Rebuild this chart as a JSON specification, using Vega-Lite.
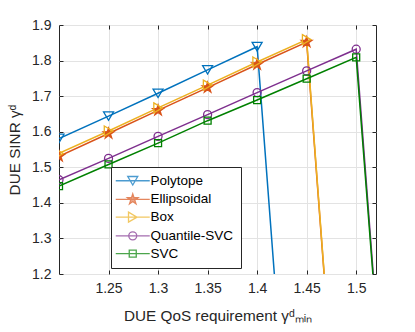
{
  "$schema": "https://vega.github.io/schema/vega-lite/v6.json",
  "width": 317,
  "height": 249,
  "autosize": {"type": "none"},
  "padding": {"left": 59, "top": 25, "right": 39, "bottom": 58},
  "config": {
    "font": "Liberation Sans",
    "view": {"stroke": "#262626", "strokeWidth": 1},
    "axis": {
      "domain": false,
      "gridColor": "#e3e3e3",
      "gridWidth": 1,
      "tickColor": "#262626",
      "tickSize": -4,
      "labelColor": "#262626",
      "labelFont": "Liberation Sans",
      "labelFontSize": 14,
      "titleFont": "Liberation Sans",
      "titleFontSize": 15.3,
      "titleFontWeight": "normal",
      "titleColor": "#262626"
    }
  },
  "data": {
    "values": [
      {"s": "Polytope", "x": 1.2, "y": 1.581},
      {"s": "Polytope", "x": 1.25, "y": 1.644},
      {"s": "Polytope", "x": 1.3, "y": 1.708},
      {"s": "Polytope", "x": 1.35, "y": 1.774},
      {"s": "Polytope", "x": 1.4, "y": 1.839},
      {"s": "Polytope", "x": 1.45, "y": 0},
      {"s": "Ellipsoidal", "x": 1.2, "y": 1.531},
      {"s": "Ellipsoidal", "x": 1.25, "y": 1.595},
      {"s": "Ellipsoidal", "x": 1.3, "y": 1.66},
      {"s": "Ellipsoidal", "x": 1.35, "y": 1.724},
      {"s": "Ellipsoidal", "x": 1.4, "y": 1.789},
      {"s": "Ellipsoidal", "x": 1.45, "y": 1.852},
      {"s": "Ellipsoidal", "x": 1.5, "y": 0},
      {"s": "Box", "x": 1.2, "y": 1.539},
      {"s": "Box", "x": 1.25, "y": 1.602},
      {"s": "Box", "x": 1.3, "y": 1.667},
      {"s": "Box", "x": 1.35, "y": 1.731},
      {"s": "Box", "x": 1.4, "y": 1.796},
      {"s": "Box", "x": 1.45, "y": 1.859},
      {"s": "Box", "x": 1.5, "y": 0},
      {"s": "Quantile-SVC", "x": 1.2, "y": 1.465},
      {"s": "Quantile-SVC", "x": 1.25, "y": 1.525},
      {"s": "Quantile-SVC", "x": 1.3, "y": 1.587},
      {"s": "Quantile-SVC", "x": 1.35, "y": 1.648},
      {"s": "Quantile-SVC", "x": 1.4, "y": 1.71},
      {"s": "Quantile-SVC", "x": 1.45, "y": 1.771},
      {"s": "Quantile-SVC", "x": 1.5, "y": 1.832},
      {"s": "Quantile-SVC", "x": 1.55, "y": 0},
      {"s": "SVC", "x": 1.2, "y": 1.447},
      {"s": "SVC", "x": 1.25, "y": 1.508},
      {"s": "SVC", "x": 1.3, "y": 1.568},
      {"s": "SVC", "x": 1.35, "y": 1.631},
      {"s": "SVC", "x": 1.4, "y": 1.689},
      {"s": "SVC", "x": 1.45, "y": 1.749},
      {"s": "SVC", "x": 1.5, "y": 1.809},
      {"s": "SVC", "x": 1.55, "y": 0}
    ]
  },
  "layer": [
    {
      "mark": {"type": "line", "clip": true, "strokeWidth": 1.5},
      "encoding": {
        "x": {
          "field": "x", "type": "quantitative",
          "scale": {"domain": [1.2, 1.52], "nice": false, "zero": false},
          "axis": {
            "orient": "bottom",
            "title": "DUE QoS requirement  γᵈₘᵢₙ",
            "values": [1.25, 1.3, 1.35, 1.4, 1.45, 1.5],
            "format": "~g",
            "labelPadding": 11,
            "titlePadding": 13
          }
        },
        "y": {
          "field": "y", "type": "quantitative",
          "scale": {"domain": [1.2, 1.9], "nice": false, "zero": false},
          "axis": {
            "orient": "left",
            "title": "DUE SINR  γᵈ",
            "values": [1.2, 1.3, 1.4, 1.5, 1.6, 1.7, 1.8, 1.9],
            "format": ".1f",
            "labelPadding": 12,
            "titlePadding": 9
          }
        },
        "color": {
          "field": "s", "type": "nominal", "legend": null,
          "scale": {"domain": ["Polytope", "Ellipsoidal", "Box", "Quantile-SVC", "SVC"],
                    "range": ["#0072BD", "#D95319", "#EDB120", "#7E2F8E", "#008000"]}
        }
      }
    },
    {
      "mark": {"type": "point", "clip": true, "filled": false, "size": 100, "strokeWidth": 1.3, "opacity": 1},
      "encoding": {
        "x": {"field": "x", "type": "quantitative", "axis": null},
        "y": {"field": "y", "type": "quantitative", "axis": null},
        "color": {
          "field": "s", "type": "nominal", "legend": null,
          "scale": {"domain": ["Polytope", "Ellipsoidal", "Box", "Quantile-SVC", "SVC"],
                    "range": ["#0072BD", "#D95319", "#EDB120", "#7E2F8E", "#008000"]}
        },
        "fill": {
          "field": "s", "type": "nominal", "legend": null,
          "scale": {"domain": ["Polytope", "Ellipsoidal", "Box", "Quantile-SVC", "SVC"],
                    "range": ["transparent", "#D95319", "transparent", "transparent", "transparent"]}
        },
        "shape": {
          "field": "s", "type": "nominal", "legend": null,
          "scale": {"domain": ["Polytope", "Ellipsoidal", "Box", "Quantile-SVC", "SVC"],
                    "range": [
                      "M-1,-0.85L1,-0.85L0,0.85Z",
                      "M0,-1.1L0.246,-0.34L1.046,-0.34L0.4,0.13L0.646,0.89L0,0.42L-0.646,0.89L-0.4,0.13L-1.046,-0.34L-0.246,-0.34Z",
                      "M-0.85,-1L0.85,0L-0.85,1Z",
                      "M0.8,0A0.8,0.8 0 1 1 -0.8,0A0.8,0.8 0 1 1 0.8,0Z",
                      "M-0.7,-0.7H0.7V0.7H-0.7Z"
                    ]}
        }
      }
    },
    {
      "transform": [{"filter": "datum.y > 100"}],
      "mark": {"type": "point", "filled": false, "size": 100, "strokeWidth": 1.3},
      "encoding": {
        "x": {
          "field": "x", "type": "quantitative",
          "axis": {"orient": "top", "title": null, "labels": false, "grid": false,
                   "values": [1.25, 1.3, 1.35, 1.4, 1.45, 1.5]}
        },
        "y": {
          "field": "y", "type": "quantitative",
          "axis": {"orient": "right", "title": null, "labels": false, "grid": false,
                   "values": [1.2, 1.3, 1.4, 1.5, 1.6, 1.7, 1.8, 1.9]}
        },
        "color": {
          "field": "s", "type": "nominal",
          "scale": {"domain": ["Polytope", "Ellipsoidal", "Box", "Quantile-SVC", "SVC"],
                    "range": ["#0072BD", "#D95319", "#EDB120", "#7E2F8E", "#008000"]},
          "legend": {
            "title": null,
            "orient": "none",
            "legendX": 52,
            "legendY": 142,
            "fillColor": "white",
            "strokeColor": "#262626",
            "padding": 7,
            "symbolOffset": 8,
            "labelOffset": 11,
            "labelFontSize": 13.5,
            "labelColor": "#000000",
            "rowPadding": 2.7,
            "symbolSize": 100,
            "symbolStrokeWidth": 1.3,
            "cornerRadius": 0
          }
        },
        "fill": {
          "field": "s", "type": "nominal",
          "scale": {"domain": ["Polytope", "Ellipsoidal", "Box", "Quantile-SVC", "SVC"],
                    "range": ["transparent", "#D95319", "transparent", "transparent", "transparent"]}
        },
        "shape": {
          "field": "s", "type": "nominal",
          "scale": {"domain": ["Polytope", "Ellipsoidal", "Box", "Quantile-SVC", "SVC"],
                    "range": [
                      "M-3.4,0H3.4M-1,-0.85L1,-0.85L0,0.85Z",
                      "M-3.4,0H3.4M0,-1.1L0.246,-0.34L1.046,-0.34L0.4,0.13L0.646,0.89L0,0.42L-0.646,0.89L-0.4,0.13L-1.046,-0.34L-0.246,-0.34Z",
                      "M-3.4,0H3.4M-0.85,-1L0.85,0L-0.85,1Z",
                      "M-3.4,0H3.4M0.8,0A0.8,0.8 0 1 1 -0.8,0A0.8,0.8 0 1 1 0.8,0Z",
                      "M-3.4,0H3.4M-0.7,-0.7H0.7V0.7H-0.7Z"
                    ]}
        }
      }
    }
  ],
  "resolve": {
    "scale": {"color": "independent", "shape": "independent", "fill": "independent"},
    "axis": {"x": "independent", "y": "independent"}
  }
}
